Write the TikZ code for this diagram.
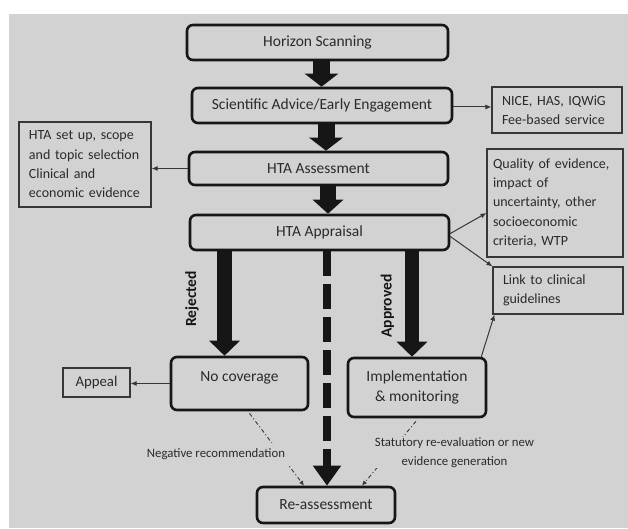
\documentclass[tikz,border=0pt]{standalone}
\usepackage{fontspec}
\setmainfont{Carlito}
\usetikzlibrary{arrows.meta,calc}
\definecolor{bggray}{RGB}{210,210,210}
\definecolor{ink}{RGB}{22,22,22}
\definecolor{txt}{RGB}{42,42,42}
\definecolor{thin}{RGB}{55,55,55}
\begin{document}
\begin{tikzpicture}[x=1bp,y=-1bp,
  mainbox/.style={draw=ink, line width=2.6bp, rounded corners=6bp, fill=bggray, text=txt,
    font=\fontsize{15.5bp}{20.3bp}\selectfont, inner sep=0pt, align=center},
  boxtext/.style={text=txt, font=\fontsize{15.5bp}{20.3bp}\selectfont, inner sep=0pt},
  sidebox/.style={draw=thin, line width=1.1bp, fill=bggray, text=txt,
    font=\fontsize{14bp}{19.3bp}\selectfont, inner ysep=0pt, inner xsep=10bp, align=left},
  thinarrow/.style={draw=thin, line width=1bp, -{Latex[length=6bp,width=5bp]}},
  dd/.style={draw=thin, line width=0.9bp, dash pattern=on 4bp off 2.5bp on 1bp off 2.5bp,
    -{Latex[length=5bp,width=4.5bp]}},
  smalllbl/.style={text=txt, font=\fontsize{12.8bp}{19bp}\selectfont, fill=bggray},
  vlbl/.style={rotate=90, text=ink, font=\bfseries\fontsize{15.5bp}{18bp}\selectfont, inner sep=0pt}
]
\useasboundingbox (0,0) rectangle (628,529);
\fill[bggray] (9,14) rectangle (628,528);

% main boxes
\node[mainbox, minimum width=261bp, minimum height=35bp] (hs) at (317.5,42.5) {Horizon Scanning};
\node[mainbox, minimum width=260bp, minimum height=35bp] (sa) at (322,105.5) {Scientific Advice/Early Engagement};
\node[mainbox, minimum width=259bp, minimum height=33bp] (ass) at (318.5,168.5) {HTA Assessment};
\node[mainbox, minimum width=259bp, minimum height=35bp] (app) at (319.5,232.5) {HTA Appraisal};
\node[mainbox, minimum width=137bp, minimum height=53bp] (nocov) at (239.5,383.5) {};
\node[boxtext] (nocovtext) at ([yshift=5.5bp]nocov.center) {No coverage};
\node[mainbox, minimum width=138bp, minimum height=59bp] (impl) at (417,387.5) {Implementation\\\& monitoring};
\node[mainbox, minimum width=138bp, minimum height=36bp] (reass) at (326,505) {Re-assessment};

% side boxes
\node[sidebox, text width=110bp, minimum height=46bp] (nice) at (557,110) {NICE, HAS, IQWiG\\Fee-based service};
\node[sidebox, text width=112bp, minimum height=85bp] (setup) at (85,164.5) {HTA set up, scope\\and topic selection\\Clinical and\\economic evidence};
\node[sidebox, inner xsep=6bp, text width=124bp, minimum height=108bp] (quality) at (555,203) {Quality of evidence,\\impact of\\uncertainty, other\\socioeconomic\\criteria, WTP};
\node[sidebox, text width=110bp, minimum height=47bp] (link) at (558,290.5) {Link to clinical\\guidelines};
\node[sidebox, inner xsep=0pt, minimum width=67bp, minimum height=29bp, align=center, font=\fontsize{14.8bp}{18bp}\selectfont] (appeal) at (96.5,382.5) {Appeal};

% block arrows
\coordinate (x1) at (321.5,0);
\coordinate (x2) at (326,0);
\coordinate (x3) at (328,0);
\coordinate (xr) at (224.5,0);
\coordinate (xm) at (327,0);
\coordinate (xa) at (412,0);
\draw[ink, line width=17bp, -{Triangle[width=33bp,length=13bp]}] (x1 |- hs.south) -- (x1 |- sa.north);
\draw[ink, line width=17bp, -{Triangle[width=33bp,length=13bp]}] (x2 |- sa.south) -- (x2 |- ass.north);
\draw[ink, line width=16bp, -{Triangle[width=30bp,length=14bp]}] (x3 |- ass.south) -- (x3 |- app.north);
\draw[ink, line width=15bp, -{Triangle[width=30bp,length=15bp]}] (xr |- app.south) -- (xr |- nocov.north);
\draw[ink, line width=14bp, -{Triangle[width=30bp,length=15bp]}] (xa |- app.south) -- (xa |- impl.north);
\draw[ink, line width=8bp, dash pattern=on 25bp off 8bp, -{Triangle[width=27bp,length=20bp]}] (xm |- app.south) -- (xm |- reass.north);

\node[vlbl] (rej) at (192,299) {Rejected};
\node[vlbl] (apr) at (387.5,306) {Approved};

% thin arrows
\draw[thinarrow] ([yshift=-1.5bp]sa.east) -- ([yshift=-1.5bp]sa.east -| nice.west);
\draw[thinarrow] (ass.west) -- (ass.west -| setup.east);
\draw[thinarrow] ([yshift=-1bp]app.east) -- ([yshift=-10bp]quality.west);
\draw[thinarrow] ([yshift=-4bp]app.east) -- (link.north west);
\draw[thinarrow] ([xshift=-6bp]impl.north east) -- ([xshift=2bp]link.south west);
\draw[thinarrow] (nocov.west) -- (nocov.west -| appeal.east);

% dash-dot connectors
\draw[dd] ([xshift=10bp,yshift=-2bp]nocov.south) -- ([xshift=-22bp]reass.north);
\draw[dd] ([xshift=-1bp,yshift=-3bp]impl.south) -- ([xshift=36bp]reass.north);
\node[smalllbl, inner ysep=5bp] (neg) at (216,454) {Negative recommendation};
\node[smalllbl, inner ysep=0pt, align=center] (stat) at (454.5,452.5) {Statutory re-evaluation or new\\evidence generation};
\end{tikzpicture}
\end{document}
